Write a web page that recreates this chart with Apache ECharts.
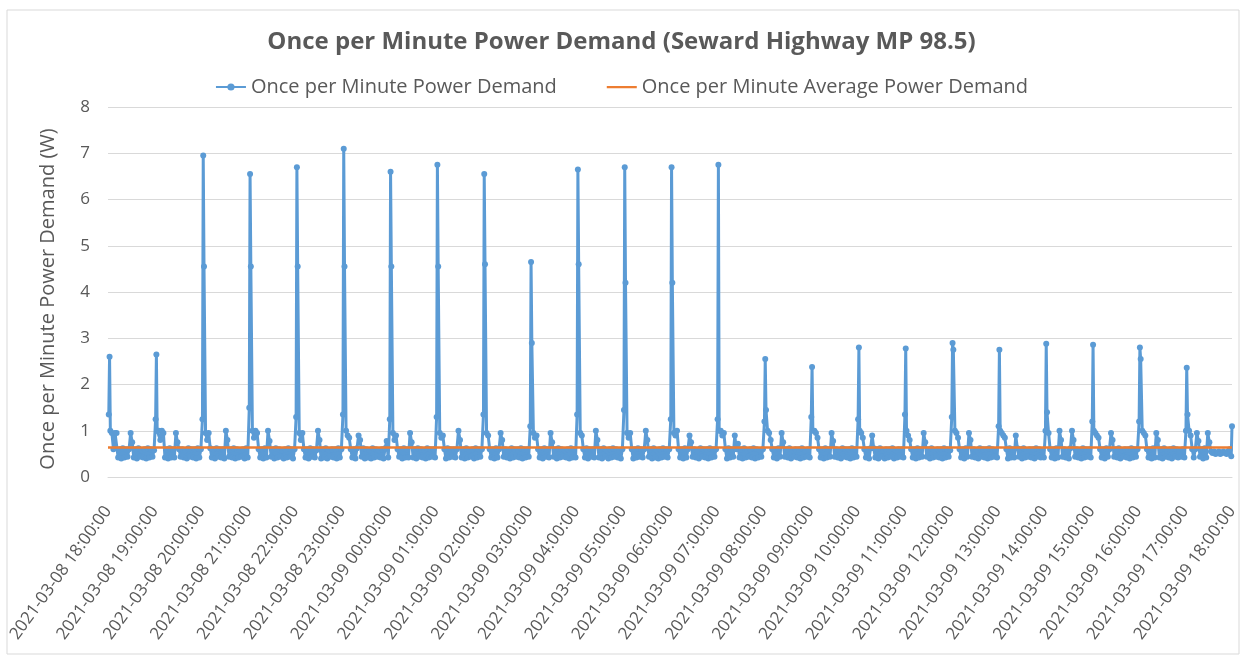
<!DOCTYPE html>
<html>
<head>
<meta charset="utf-8">
<script src="https://cdn.jsdelivr.net/npm/echarts@6/dist/echarts.min.js"></script>
<style>
  html, body { margin: 0; padding: 0; background: #fff; }
  #main { width: 1243px; height: 658px; }
</style>
</head>
<body>
<div id="main"></div>
<script>
// tick labels, one per hour
const hourLabels = [
    '2021-03-08 18:00:00', '2021-03-08 19:00:00', '2021-03-08 20:00:00', '2021-03-08 21:00:00',
    '2021-03-08 22:00:00', '2021-03-08 23:00:00', '2021-03-09 00:00:00', '2021-03-09 01:00:00',
    '2021-03-09 02:00:00', '2021-03-09 03:00:00', '2021-03-09 04:00:00', '2021-03-09 05:00:00',
    '2021-03-09 06:00:00', '2021-03-09 07:00:00', '2021-03-09 08:00:00', '2021-03-09 09:00:00',
    '2021-03-09 10:00:00', '2021-03-09 11:00:00', '2021-03-09 12:00:00', '2021-03-09 13:00:00',
    '2021-03-09 14:00:00', '2021-03-09 15:00:00', '2021-03-09 16:00:00', '2021-03-09 17:00:00',
    '2021-03-09 18:00:00'
];

// hourly spike readings (minute 1, 2, 3 of each hour)
const riseValues = [1.35, 1.25, 1.25, 1.5, 1.3, 1.35, 1.25, 1.3, 1.35, 1.1, 1.35, 1.45,
    1.25, 1.25, 1.2, 1.3, 1.25, 1.35, 1.3, 1.1, 1.0, 1.2, 1.2, 1.0];
const peakValues = [2.6, 2.65, 6.95, 6.55, 6.7, 7.1, 6.6, 6.75, 6.55, 4.65, 6.65, 6.7,
    6.7, 6.75, 2.55, 2.38, 2.8, 2.78, 2.9, 2.75, 2.88, 2.86, 2.8, 2.36];
const fallValues = [1.0, 1.0, 4.55, 4.55, 4.55, 4.55, 4.55, 4.55, 4.6, 2.9, 4.6, 4.2,
    4.2, 1.0, 1.45, 1.0, 1.0, 1.0, 2.75, 1.0, 1.4, 1.0, 2.55, 1.35];

// rest of each hour, one reading every 2 minutes (minute 5 .. 59)
const baseRows = [
    [0.95, 0.6, 0.95, 0.95, 0.42, 0.6, 0.4, 0.62, 0.42, 0.6, 0.44, 0.6, 0.95, 0.75, 0.42, 0.6, 0.4, 0.62, 0.44, 0.58, 0.42, 0.6, 0.4, 0.62, 0.42, 0.6, 0.44, 0.58],
    [1.0, 0.8, 1.0, 0.95, 0.42, 0.6, 0.4, 0.62, 0.42, 0.6, 0.42, 0.95, 0.75, 0.6, 0.44, 0.6, 0.42, 0.58, 0.4, 0.62, 0.44, 0.6, 0.42, 0.6, 0.4, 0.62, 0.42, 0.6],
    [0.95, 0.8, 0.95, 0.62, 0.42, 0.6, 0.4, 0.62, 0.44, 0.6, 0.42, 0.6, 0.4, 1.0, 0.8, 0.44, 0.6, 0.42, 0.62, 0.4, 0.6, 0.42, 0.58, 0.44, 0.6, 0.4, 0.62, 0.42],
    [1.0, 0.85, 1.0, 0.95, 0.6, 0.42, 0.6, 0.4, 0.62, 0.42, 1.0, 0.78, 0.44, 0.6, 0.4, 0.62, 0.42, 0.6, 0.44, 0.58, 0.4, 0.6, 0.42, 0.62, 0.44, 0.6, 0.4, 0.6],
    [0.95, 0.8, 0.95, 0.6, 0.42, 0.6, 0.4, 0.62, 0.44, 0.6, 0.42, 0.58, 1.0, 0.8, 0.4, 0.6, 0.42, 0.62, 0.4, 0.58, 0.44, 0.6, 0.42, 0.6, 0.4, 0.62, 0.42, 0.6],
    [1.0, 0.9, 0.85, 0.6, 0.42, 0.6, 0.4, 0.62, 0.9, 0.8, 0.44, 0.62, 0.4, 0.6, 0.42, 0.58, 0.4, 0.62, 0.42, 0.6, 0.44, 0.58, 0.42, 0.6, 0.4, 0.62, 0.78, 0.42],
    [0.95, 0.8, 0.9, 0.6, 0.44, 0.6, 0.4, 0.62, 0.42, 0.6, 0.42, 0.95, 0.75, 0.42, 0.6, 0.4, 0.62, 0.44, 0.6, 0.42, 0.58, 0.4, 0.62, 0.42, 0.6, 0.44, 0.6, 0.42],
    [0.95, 0.85, 0.9, 0.6, 0.4, 0.62, 0.42, 0.6, 0.44, 0.6, 0.42, 0.6, 1.0, 0.8, 0.42, 0.6, 0.4, 0.62, 0.42, 0.58, 0.44, 0.6, 0.4, 0.62, 0.42, 0.6, 0.44, 0.6],
    [0.95, 0.9, 0.6, 0.42, 0.6, 0.4, 0.62, 0.42, 0.6, 0.95, 0.8, 0.44, 0.6, 0.42, 0.58, 0.4, 0.62, 0.42, 0.6, 0.44, 0.6, 0.42, 0.62, 0.4, 0.6, 0.42, 0.6, 0.44],
    [0.95, 0.85, 0.9, 0.6, 0.42, 0.6, 0.4, 0.62, 0.44, 0.6, 0.42, 0.95, 0.75, 0.44, 0.6, 0.4, 0.62, 0.42, 0.6, 0.44, 0.58, 0.42, 0.6, 0.4, 0.62, 0.42, 0.6, 0.42],
    [0.95, 0.9, 0.6, 0.42, 0.62, 0.4, 0.6, 0.44, 0.6, 0.42, 1.0, 0.8, 0.42, 0.6, 0.4, 0.62, 0.44, 0.58, 0.4, 0.6, 0.42, 0.62, 0.44, 0.6, 0.42, 0.58, 0.4, 0.6],
    [0.95, 0.85, 0.95, 0.6, 0.4, 0.6, 0.42, 0.62, 0.44, 0.6, 0.42, 0.6, 1.0, 0.8, 0.44, 0.6, 0.4, 0.62, 0.42, 0.58, 0.4, 0.6, 0.42, 0.62, 0.44, 0.6, 0.42, 0.6],
    [0.95, 0.9, 1.0, 0.6, 0.42, 0.6, 0.4, 0.62, 0.42, 0.6, 0.9, 0.75, 0.44, 0.6, 0.42, 0.58, 0.4, 0.62, 0.44, 0.6, 0.42, 0.6, 0.4, 0.62, 0.42, 0.6, 0.44, 0.6],
    [1.0, 0.9, 0.95, 0.6, 0.4, 0.62, 0.42, 0.6, 0.44, 0.9, 0.6, 0.72, 0.42, 0.6, 0.4, 0.62, 0.42, 0.58, 0.44, 0.6, 0.42, 0.62, 0.4, 0.6, 0.42, 0.58, 0.44, 0.6],
    [1.0, 0.95, 0.8, 0.6, 0.42, 0.6, 0.4, 0.62, 0.44, 0.95, 0.75, 0.44, 0.6, 0.42, 0.62, 0.4, 0.58, 0.44, 0.6, 0.42, 0.6, 0.4, 0.62, 0.42, 0.58, 0.44, 0.6, 0.42],
    [1.0, 0.95, 0.85, 0.6, 0.42, 0.6, 0.4, 0.62, 0.42, 0.6, 0.44, 0.95, 0.78, 0.44, 0.6, 0.42, 0.58, 0.4, 0.62, 0.44, 0.6, 0.42, 0.6, 0.4, 0.62, 0.42, 0.6, 0.44],
    [0.95, 0.85, 0.6, 0.42, 0.6, 0.4, 0.62, 0.9, 0.62, 0.42, 0.6, 0.4, 0.62, 0.44, 0.58, 0.4, 0.6, 0.42, 0.6, 0.44, 0.62, 0.4, 0.58, 0.42, 0.6, 0.44, 0.6, 0.42],
    [0.9, 0.8, 0.6, 0.42, 0.6, 0.4, 0.62, 0.42, 0.6, 0.44, 0.95, 0.75, 0.44, 0.6, 0.4, 0.62, 0.42, 0.58, 0.44, 0.6, 0.42, 0.6, 0.4, 0.62, 0.42, 0.6, 0.44, 0.58],
    [1.0, 0.95, 0.85, 0.6, 0.42, 0.6, 0.4, 0.62, 0.44, 0.95, 0.8, 0.44, 0.6, 0.42, 0.58, 0.4, 0.62, 0.44, 0.6, 0.42, 0.6, 0.4, 0.62, 0.42, 0.6, 0.44, 0.58, 0.42],
    [0.95, 0.9, 0.85, 0.6, 0.4, 0.62, 0.42, 0.6, 0.42, 0.9, 0.62, 0.44, 0.6, 0.4, 0.62, 0.42, 0.58, 0.44, 0.6, 0.42, 0.6, 0.4, 0.62, 0.44, 0.6, 0.42, 0.58, 0.42],
    [0.95, 0.6, 0.42, 0.6, 0.4, 0.62, 0.42, 1.0, 0.8, 0.44, 0.6, 0.42, 0.58, 0.4, 0.62, 1.0, 0.8, 0.44, 0.6, 0.42, 0.58, 0.4, 0.62, 0.42, 0.6, 0.44, 0.6, 0.42],
    [0.95, 0.9, 0.85, 0.6, 0.42, 0.6, 0.4, 0.62, 0.44, 0.6, 0.95, 0.8, 0.44, 0.6, 0.42, 0.62, 0.4, 0.58, 0.44, 0.6, 0.42, 0.6, 0.4, 0.62, 0.42, 0.6, 0.44, 0.6],
    [1.0, 0.95, 0.9, 0.6, 0.42, 0.6, 0.4, 0.62, 0.42, 0.95, 0.8, 0.42, 0.6, 0.4, 0.62, 0.44, 0.58, 0.42, 0.6, 0.4, 0.62, 0.44, 0.6, 0.42, 0.58, 0.44, 0.6, 0.42],
    [1.0, 0.9, 0.6, 0.42, 0.6, 0.95, 0.78, 0.44, 0.6, 0.4, 0.62, 0.42, 0.95, 0.75, 0.55, 0.52, 0.55, 0.5, 0.52, 0.55, 0.5, 0.52, 0.55, 0.52, 0.5, 0.55, 0.6, 0.45]
];
const endValue = 1.1;
const averageDemand = 0.64;

const demand = [];
for (let h = 0; h < baseRows.length; h++) {
    const m0 = h * 60;
    demand.push([m0 + 1, riseValues[h]]);
    demand.push([m0 + 2, peakValues[h]]);
    demand.push([m0 + 3, fallValues[h]]);
    baseRows[h].slice(0, 28).forEach(function(v, k) {
        demand.push([m0 + 5 + k * 2, v]);
    });
}
demand.push([1440, endValue]);

const textColor = '#595959';
const chart = echarts.init(document.getElementById('main'));
const option = {
    animation: false,
    textStyle: { fontFamily: 'Open Sans' },
    title: {
        text: 'Once per Minute Power Demand (Seward Highway MP 98.5)',
        left: 'center',
        top: 25,
        textStyle: { fontSize: 24, fontWeight: 'bold', color: textColor, fontFamily: 'Open Sans' }
    },
    legend: {
        top: 72,
        left: 'center',
        itemGap: 50,
        itemWidth: 30,
        itemHeight: 9,
        textStyle: { fontSize: 20, color: textColor },
        data: [
            { name: 'Once per Minute Power Demand' },
            { name: 'Once per Minute Average Power Demand', icon: 'path://M0,0 L0.01,0 Z M0,3.4 H30 V5.8 H0 Z M0,9 L0.01,9 Z' }
        ]
    },
    graphic: [{
        type: 'rect',
        shape: { x: 7, y: 10, width: 1232, height: 644 },
        style: { fill: 'none', stroke: '#d9d9d9', lineWidth: 1 },
        silent: true
    }],
    grid: { left: 108, right: 11, top: 107, bottom: 181 },
    xAxis: {
        type: 'value',
        min: 0,
        max: 1440,
        interval: 60,
        axisLine: { show: true, lineStyle: { color: '#d9d9d9' } },
        axisTick: { show: false },
        splitLine: { show: false },
        axisLabel: {
            rotate: 54,
            margin: 31,
            fontSize: 17,
            color: textColor,
            formatter: function(v) { return hourLabels[Math.round(v / 60)]; }
        }
    },
    yAxis: {
        type: 'value',
        min: 0,
        max: 8,
        interval: 1,
        name: 'Once per Minute Power Demand (W)',
        nameLocation: 'middle',
        nameGap: 50,
        nameTextStyle: { fontSize: 20, color: textColor, padding: [0, 14, 0, 0] },
        axisLine: { show: false },
        axisTick: { show: false },
        axisLabel: { fontSize: 17, color: textColor, margin: 18 },
        splitLine: { lineStyle: { color: '#d9d9d9' } }
    },
    series: [{
        name: 'Once per Minute Power Demand',
        type: 'line',
        data: demand,
        symbol: 'circle',
        symbolSize: 6,
        showAllSymbol: true,
        color: '#5B9BD5',
        lineStyle: { width: 3, color: '#5B9BD5' },
        z: 2
    }, {
        name: 'Once per Minute Average Power Demand',
        type: 'line',
        data: [[0, averageDemand], [1440, averageDemand]],
        symbol: 'none',
        color: '#ED7D31',
        lineStyle: { width: 2.5, color: '#ED7D31' },
        z: 3
    }]
};
chart.setOption(option);
</script>
</body>
</html>
